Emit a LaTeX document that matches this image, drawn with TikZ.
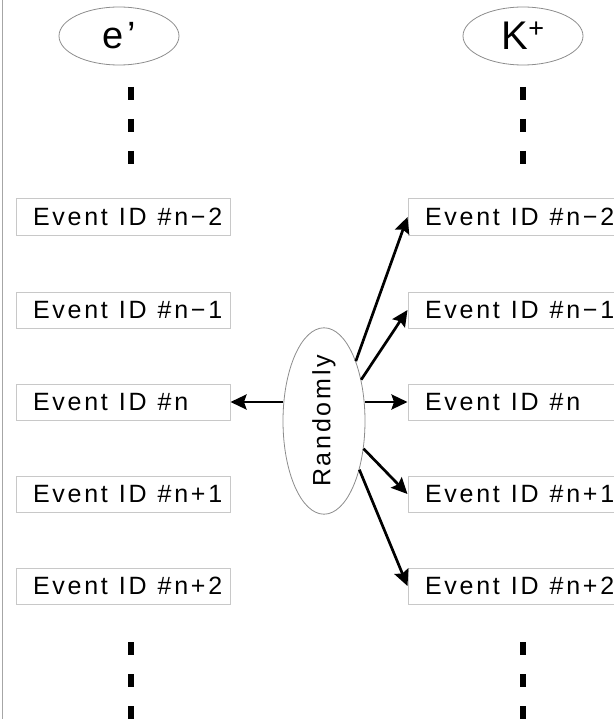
\documentclass[tikz,border=0pt]{standalone}
\usepackage{fontspec}
\setmainfont{Liberation Sans}[LetterSpace=11]
\usetikzlibrary{arrows.meta, shapes.geometric}
\definecolor{BoxGray}{RGB}{200, 200, 200}
\definecolor{OvalGray}{RGB}{140, 140, 140}

\begin{document}
\begin{tikzpicture}[
  x=1pt, y=-1pt,
  every node/.style={font=\fontsize{25}{28}\selectfont},
  eventbox/.style={draw=BoxGray, line width=1pt, fill=white,
                   minimum width=214pt, minimum height=36pt,
                   inner xsep=17pt, inner ysep=0pt,
                   text width=180pt, align=left,
                   execute at begin node={\spaceskip=11pt\relax\rightskip=0pt minus 40pt\relax}},
  oval/.style={draw=OvalGray, ellipse, line width=0.8pt, inner sep=0pt},
  vdots/.style={line width=6.5pt, dash pattern=on 13pt off 19pt},
  arr/.style={-{Stealth[length=16pt, width=15pt, inset=2.5pt]}, line width=2.7pt}
]
  \useasboundingbox (0,0) rectangle (613,719);
  \draw[gray!70, line width=1pt] (2,0) -- (2,719);

  %% Particle heads
  \node[oval, minimum width=120pt, minimum height=58pt] (eprime) at (119,36)
       {\fontsize{38}{40}\selectfont e’};
  \node[oval, minimum width=120pt, minimum height=58pt] (kplus)  at (523,36)
       {\fontsize{40}{42}\selectfont K\raisebox{12pt}{\fontsize{27}{28}\selectfont +}};

  %% Left column (e')
  \node[eventbox] (l1) at (123,217) {Event ID \#n\textminus 2};
  \node[eventbox] (l2) at (123,310) {Event ID \#n\textminus 1};
  \node[eventbox] (l3) at (123,402) {Event ID \#n};
  \node[eventbox] (l4) at (123,494) {Event ID \#n+1};
  \node[eventbox] (l5) at (123,586) {Event ID \#n+2};

  %% Right column (K+)
  \node[eventbox] (r1) at (515,217) {Event ID \#n\textminus 2};
  \node[eventbox] (r2) at (515,310) {Event ID \#n\textminus 1};
  \node[eventbox] (r3) at (515,402) {Event ID \#n};
  \node[eventbox] (r4) at (515,494) {Event ID \#n+1};
  \node[eventbox] (r5) at (515,586) {Event ID \#n+2};

  %% Chooser
  \node[oval, minimum width=82pt, minimum height=142pt, fill=white] (rand) at (324,421)
       {\rotatebox{90}{Randomly}};

  %% Vertical dots
  \coordinate (ldotA) at (131,87);  \coordinate (ldotB) at (131,165);
  \coordinate (rdotA) at (523,87);  \coordinate (rdotB) at (523,165);
  \coordinate (ldotC) at (131,642); \coordinate (ldotD) at (131,730);
  \coordinate (rdotC) at (523,642); \coordinate (rdotD) at (523,730);
  \draw[vdots] (ldotA) -- (ldotB);
  \draw[vdots] (rdotA) -- (rdotB);
  \draw[vdots] (ldotC) -- (ldotD);
  \draw[vdots] (rdotC) -- (rdotD);

  %% Arrows
  \draw[arr] (rand.west |- l3) -- (l3.east);
  \draw[arr] (rand.east |- r3) -- (r3.west);
  \draw[arr] (rand.62)  -- (r1.west);
  \draw[arr] (rand.48)  -- (r2.west);
  \draw[arr] (rand.-35) -- (r4.west);
  \draw[arr] (rand.-54) -- (r5.west);
\end{tikzpicture}
\end{document}
